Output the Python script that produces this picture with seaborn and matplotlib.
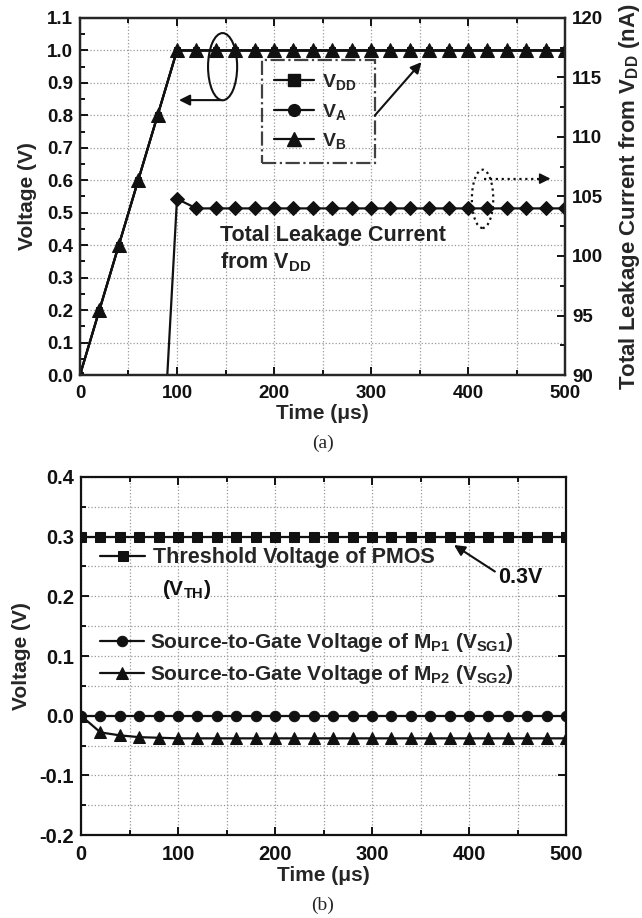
import matplotlib
matplotlib.use("Agg")
import matplotlib.pyplot as plt
import seaborn as sns
from matplotlib.patches import Ellipse
from matplotlib.lines import Line2D
from matplotlib.ticker import MultipleLocator, FormatStrFormatter

# ---- data ----
time_us = [0, 20, 40, 60, 80, 100, 120, 140, 160, 180, 200, 220, 240, 260,
           280, 300, 320, 340, 360, 380, 400, 420, 440, 460, 480, 500]

# (a) VDD, VA and VB lie on top of each other
v_dd = [0.0, 0.2, 0.4, 0.6, 0.8, 1.0, 1.0, 1.0, 1.0, 1.0, 1.0, 1.0, 1.0, 1.0,
        1.0, 1.0, 1.0, 1.0, 1.0, 1.0, 1.0, 1.0, 1.0, 1.0, 1.0, 1.0]
v_a = [0.0, 0.2, 0.4, 0.6, 0.8, 1.0, 1.0, 1.0, 1.0, 1.0, 1.0, 1.0, 1.0, 1.0,
       1.0, 1.0, 1.0, 1.0, 1.0, 1.0, 1.0, 1.0, 1.0, 1.0, 1.0, 1.0]
v_b = [0.0, 0.2, 0.4, 0.6, 0.8, 1.0, 1.0, 1.0, 1.0, 1.0, 1.0, 1.0, 1.0, 1.0,
       1.0, 1.0, 1.0, 1.0, 1.0, 1.0, 1.0, 1.0, 1.0, 1.0, 1.0, 1.0]

leak_time = [90, 100, 120, 140, 160, 180, 200, 220, 240, 260, 280, 300, 320,
             340, 360, 380, 400, 420, 440, 460, 480, 500]
leak_na = [90.0, 104.8, 104.0, 104.0, 104.0, 104.0, 104.0, 104.0, 104.0,
           104.0, 104.0, 104.0, 104.0, 104.0, 104.0, 104.0, 104.0, 104.0,
           104.0, 104.0, 104.0, 104.0]

# (b)
v_th = [0.3, 0.3, 0.3, 0.3, 0.3, 0.3, 0.3, 0.3, 0.3, 0.3, 0.3, 0.3, 0.3,
        0.3, 0.3, 0.3, 0.3, 0.3, 0.3, 0.3, 0.3, 0.3, 0.3, 0.3, 0.3, 0.3]
v_sg1 = [0.0, 0.0, 0.0, 0.0, 0.0, 0.0, 0.0, 0.0, 0.0, 0.0, 0.0, 0.0, 0.0,
         0.0, 0.0, 0.0, 0.0, 0.0, 0.0, 0.0, 0.0, 0.0, 0.0, 0.0, 0.0, 0.0]
v_sg2 = [0.0, -0.028, -0.033, -0.036, -0.037, -0.038, -0.038, -0.038, -0.038,
         -0.038, -0.038, -0.038, -0.038, -0.038, -0.038, -0.038, -0.038,
         -0.038, -0.038, -0.038, -0.038, -0.038, -0.038, -0.038, -0.038, -0.038]

sns.set_theme(style="ticks")
plt.rcParams["font.family"] = ["Liberation Sans", "DejaVu Sans"]
plt.rcParams["font.weight"] = "bold"
plt.rcParams["axes.labelweight"] = "bold"
plt.rcParams["axes.unicode_minus"] = False
plt.rcParams["mathtext.fontset"] = "custom"
plt.rcParams["mathtext.rm"] = "Liberation Sans:bold"
plt.rcParams["mathtext.bf"] = "Liberation Sans:bold"
plt.rcParams["mathtext.it"] = "Liberation Sans:bold"

INK = "#111111"
fig = plt.figure(figsize=(6.42, 9.18), dpi=100)
ax1 = fig.add_axes([0.1246, 0.5915, 0.7555, 0.3889])
ax3 = fig.add_axes([0.1262, 0.0904, 0.7555, 0.39])


def style_axis(ax, fs):
    for s in ax.spines.values():
        s.set_linewidth(1.6)
        s.set_color(INK)
    ax.tick_params(which="both", direction="in", width=1.4, colors=INK,
                   labelsize=fs, top=True)
    ax.tick_params(which="major", length=6)
    ax.tick_params(which="minor", length=3.5)
    ax.tick_params(axis="x", pad=7.5)
    ax.tick_params(axis="y", pad=5)
    ax.set_xlim(0, 500)
    ax.xaxis.set_major_locator(MultipleLocator(100))
    ax.xaxis.set_minor_locator(MultipleLocator(50))
    ax.grid(which="both", axis="x", ls=":", color="0.6", lw=0.9)
    for lab in ax.get_xticklabels() + ax.get_yticklabels():
        lab.set_fontweight("bold")


# ---------------- (a) ----------------
line_kw = dict(color=INK, linewidth=1.6, markeredgecolor=INK, legend=False)
# VDD and VA are hidden under VB; only the triangles show
sns.lineplot(x=time_us, y=v_dd, ax=ax1, marker="s", markersize=4.5, **line_kw)
sns.lineplot(x=time_us, y=v_a, ax=ax1, marker="o", markersize=5, **line_kw)
sns.lineplot(x=time_us, y=v_b, ax=ax1, marker="^", markersize=10, **line_kw)

ax1.set_ylim(0, 1.1)
ax1.yaxis.set_major_locator(MultipleLocator(0.1))
ax1.yaxis.set_minor_locator(MultipleLocator(0.05))
ax1.yaxis.set_major_formatter(FormatStrFormatter("%.1f"))
ax1.grid(which="major", axis="y", ls=":", color="0.6", lw=0.9)
style_axis(ax1, 13.5)
ax1.tick_params(right=False)
ax1.set_xlabel("Time (μs)", fontsize=15, labelpad=1)
ax1.set_ylabel("Voltage (V)", fontsize=15, labelpad=7)

ax2 = ax1.twinx()
sns.lineplot(x=leak_time, y=leak_na, ax=ax2, marker="D", markersize=7.5,
             markevery=slice(1, None), **line_kw)
ax2.set_ylim(90, 120)
ax2.yaxis.set_major_locator(MultipleLocator(5))
ax2.yaxis.set_minor_locator(MultipleLocator(2.5))
for s in ax2.spines.values():
    s.set_linewidth(1.6)
ax2.tick_params(which="both", direction="in", width=1.4, colors=INK,
                labelsize=13.5, pad=5)
ax2.tick_params(which="major", length=6)
ax2.tick_params(which="minor", length=3.5)
for lab in ax2.get_yticklabels():
    lab.set_fontweight("bold")
ax2.set_ylabel("Total Leakage Current from V$_{\\rm DD}$ (nA)", fontsize=16,
               labelpad=10)

proxy = dict(color=INK, lw=1.6, mec=INK)
leg = ax1.legend([Line2D([], [], marker="s", ms=8, **proxy),
                  Line2D([], [], marker="o", ms=8.5, **proxy),
                  Line2D([], [], marker="^", ms=10, **proxy)],
                 ["V$_{\\rm DD}$", "V$_{\\rm A}$", "V$_{\\rm B}$"],
                 loc="upper left", bbox_to_anchor=(0.375, 0.588, 0.233, 0.294),
                 mode="expand", borderaxespad=0, fontsize=14, handlelength=2.1,
                 handletextpad=0.4, labelspacing=0.5, borderpad=0.6,
                 fancybox=False, frameon=True)
fr = leg.get_frame()
fr.set_facecolor("none")
fr.set_edgecolor(INK)
fr.set_linewidth(1.6)
fr.set_linestyle("-.")

ax1.add_patch(Ellipse((147, 0.95), 30, 0.207, fill=False, ec=INK, lw=1.5))
ax1.annotate("", xy=(102, 0.847), xytext=(145, 0.847),
             arrowprops=dict(arrowstyle="-|>", color=INK, lw=1.5,
                             mutation_scale=16, shrinkA=0, shrinkB=0))
ax1.annotate("", xy=(352, 0.964), xytext=(304, 0.80),
             arrowprops=dict(arrowstyle="-|>", color=INK, lw=1.5,
                             mutation_scale=16, shrinkA=0, shrinkB=0))

ax2.add_patch(Ellipse((415, 104.8), 22, 4.9, fill=False, ec=INK, lw=1.6, ls=":"))
ax2.plot([416, 478], [106.5, 106.5], color=INK, lw=1.6, ls=":")
ax2.annotate("", xy=(485, 106.5), xytext=(475, 106.5),
             arrowprops=dict(arrowstyle="-|>", color=INK, lw=1.2,
                             mutation_scale=16, shrinkA=0, shrinkB=0))

ax1.text(144, 0.412, "Total Leakage Current", fontsize=15.5, color="#222222",
         va="baseline", ha="left")
ax1.text(144, 0.328, "from V$_{\\rm DD}$", fontsize=15.5, color="#222222",
         va="baseline", ha="left")

# ---------------- (b) ----------------
sns.lineplot(x=time_us, y=v_th, ax=ax3, marker="s", markersize=7, **line_kw)
sns.lineplot(x=time_us, y=v_sg1, ax=ax3, marker="o", markersize=7.5, **line_kw)
sns.lineplot(x=time_us, y=v_sg2, ax=ax3, marker="^", markersize=9, **line_kw)
h_th, h_sg1, h_sg2 = ax3.lines[-3:]

ax3.set_ylim(-0.2, 0.4)
ax3.yaxis.set_major_locator(MultipleLocator(0.1))
ax3.yaxis.set_minor_locator(MultipleLocator(0.05))
ax3.yaxis.set_major_formatter(FormatStrFormatter("%.1f"))
ax3.grid(which="both", axis="y", ls=":", color="0.6", lw=0.9)
style_axis(ax3, 14.5)
ax3.tick_params(right=True)
ax3.set_xlabel("Time (μs)", fontsize=15, labelpad=1)
ax3.set_ylabel("Voltage (V)", fontsize=15, labelpad=6)

leg1 = ax3.legend([h_th], ["Threshold Voltage of PMOS"], loc="center left",
                  bbox_to_anchor=(0.039, 0.774), borderaxespad=0, borderpad=0,
                  fontsize=15.5, handlelength=2.1, handletextpad=0.35,
                  frameon=False)
ax3.add_artist(leg1)
ax3.legend([h_sg1, h_sg2],
           ["Source-to-Gate Voltage of M$_{\\rm P1}$ (V$_{\\rm SG1}$)",
            "Source-to-Gate Voltage of M$_{\\rm P2}$ (V$_{\\rm SG2}$)"],
           loc="center left", bbox_to_anchor=(0.039, 0.492), borderaxespad=0,
           borderpad=0, fontsize=15, handlelength=2.1, handletextpad=0.3,
           labelspacing=0.42, frameon=False)
ax3.text(83.5, 0.211, "(V$_{\\rm TH}$)", fontsize=15, va="center", ha="left",
         color=INK)

ax3.annotate("0.3V", xy=(384.5, 0.286), xytext=(430, 0.231), fontsize=15.5,
             va="center", ha="left", color=INK,
             arrowprops=dict(arrowstyle="-|>", color=INK, lw=1.5,
                             mutation_scale=16, shrinkA=0, shrinkB=0,
                             relpos=(0, 0.7)))

fig.text(0.503, 0.5174, "(a)", family="Liberation Serif", fontweight="normal",
         fontsize=14, ha="center", va="center")
fig.text(0.503, 0.0142, "(b)", family="Liberation Serif", fontweight="normal",
         fontsize=14, ha="center", va="center")

fig.savefig("out.png", dpi=100)
